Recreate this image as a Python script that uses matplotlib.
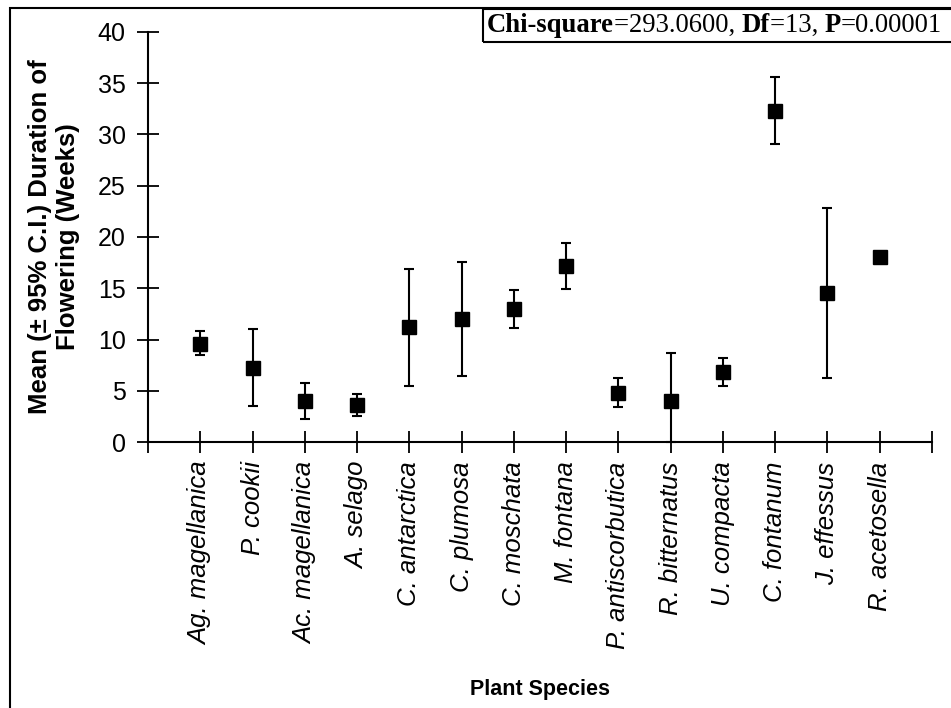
import matplotlib
matplotlib.use('Agg')
from matplotlib import pyplot as plt
from matplotlib.patches import Rectangle
from matplotlib.offsetbox import TextArea, HPacker, AnnotationBbox

species = ['Ag. magellanica', 'P. cookii', 'Ac. magellanica', 'A. selago',
           'C. antarctica', 'C. plumosa', 'C. moschata', 'M. fontana',
           'P. antiscorbutica', 'R. bitternatus', 'U. compacta',
           'C. fontanum', 'J. effessus', 'R. acetosella']
mean_weeks = [9.6, 7.2, 4.0, 3.6, 11.2, 12.0, 13.0, 17.2,
              4.8, 4.0, 6.8, 32.3, 14.5, 18.0]
ci_upper = [10.8, 11.0, 5.8, 4.7, 16.9, 17.6, 14.8, 19.4,
            6.2, 8.65, 8.15, 35.6, 22.8, 18.0]
ci_lower = [8.5, 3.5, 2.25, 2.5, 5.5, 6.45, 11.15, 14.95,
            3.45, 0.0, 5.45, 29.1, 6.2, 18.0]

stats_parts = [('Chi-square', 'bold'), ('=293.0600, ', 'normal'),
               ('Df', 'bold'), ('=13, ', 'normal'),
               ('P', 'bold'), ('=0.00001', 'normal')]

plt.rcParams['font.family'] = ['Liberation Sans', 'DejaVu Sans']

fig = plt.figure(figsize=(9.51, 7.08), dpi=100)
ax = fig.add_axes([148 / 951, 1 - 442 / 708, (932 - 148) / 951, (442 - 32) / 708])

x = list(range(1, len(species) + 1))
err_low = [m - lo for m, lo in zip(mean_weeks, ci_lower)]
err_high = [hi - m for m, hi in zip(mean_weeks, ci_upper)]
ax.errorbar(x, mean_weeks, yerr=[err_low, err_high], fmt='s', color='black',
            markersize=9.5, capsize=3.5, capthick=1.5, elinewidth=1.5,
            clip_on=False, zorder=3)

ax.set_xlim(0, len(species) + 1)
ax.set_ylim(0, 40)
ax.set_yticks(range(0, 41, 5))
ax.set_xticks(range(0, len(species) + 2))
ax.set_xticklabels([''] + species + [''], rotation=90, style='italic',
                   fontsize=18.5)
ax.tick_params(axis='y', direction='inout', length=16, width=1.3,
               labelsize=18, pad=8)
ax.tick_params(axis='x', direction='inout', length=16, width=1.3, pad=6)

for side in ('top', 'right'):
    ax.spines[side].set_visible(False)
for side in ('left', 'bottom'):
    ax.spines[side].set_linewidth(1.5)

ax.set_ylabel('Mean (\u00b1 95% C.I.) Duration of\nFlowering (Weeks)',
              fontsize=18.5, fontweight='bold', linespacing=1.2)
ax.yaxis.set_label_coords(-(148 - 80) / 784, 0.5)
ax.set_xlabel('Plant Species', fontsize=15.5, fontweight='bold')
ax.xaxis.set_label_coords(0.5, -(690 - 442) / 410)
ax.xaxis.label.set_verticalalignment('center')

# frame round the whole figure
fig.patches.append(Rectangle((9.5 / 951, -0.1), 1.0, 1.1 - 8.5 / 708,
                             transform=fig.transFigure, fill=False,
                             edgecolor='black', linewidth=1.5))
# statistics box top right
fig.patches.append(Rectangle((483 / 951, 1 - 41.5 / 708), 0.5, 33 / 708,
                             transform=fig.transFigure, fill=False,
                             edgecolor='black', linewidth=1.5))
pieces = [TextArea(t, textprops=dict(family='Liberation Serif', fontsize=19.2,
                                     fontweight=w)) for t, w in stats_parts]
pack = HPacker(children=pieces, align='baseline', pad=0, sep=0)
ab = AnnotationBbox(pack, (487 / 951, 1 - 25 / 708), xycoords='figure fraction',
                    box_alignment=(0, 0.5), frameon=False, pad=0)
fig.add_artist(ab)

plt.savefig('out.png', dpi=100)
